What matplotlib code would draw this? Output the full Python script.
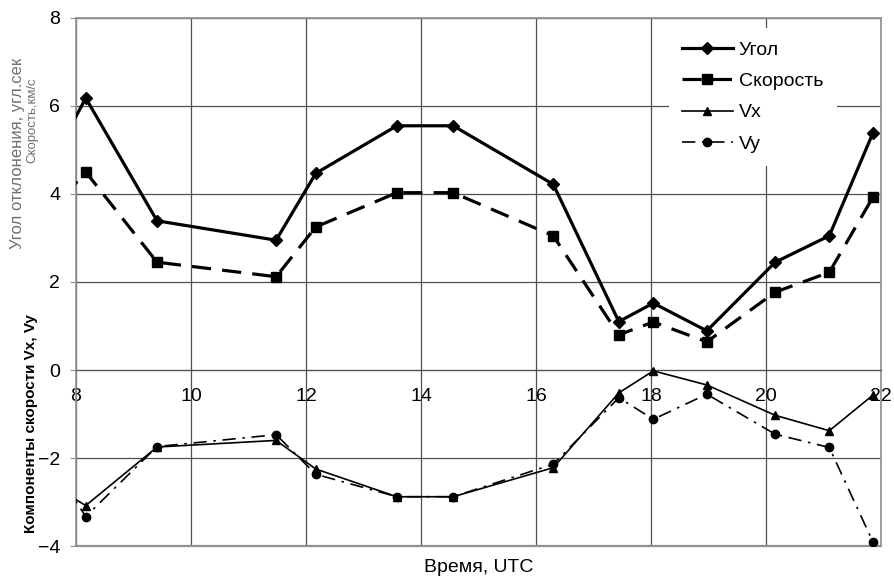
import matplotlib
matplotlib.use('Agg')
import matplotlib.pyplot as plt

plt.rcParams['font.family'] = ['Liberation Sans', 'DejaVu Sans']

# время, UTC (первая точка левее 8 ч, линия обрезана краем оси)
time = [7.8, 8.17, 9.41, 11.48, 12.17, 13.58, 14.56, 16.3, 17.44, 18.04, 18.97, 20.16, 21.1, 21.86]
angle = [5.27, 6.18, 3.39, 2.95, 4.47, 5.55, 5.55, 4.22, 1.1, 1.52, 0.89, 2.45, 3.05, 5.39]
speed = [3.96, 4.5, 2.45, 2.12, 3.25, 4.03, 4.03, 3.05, 0.8, 1.09, 0.64, 1.77, 2.22, 3.93]
vx = [-2.79, -3.08, -1.75, -1.6, -2.25, -2.88, -2.88, -2.22, -0.52, -0.02, -0.34, -1.03, -1.38, -0.57]
vy = [-2.6, -3.33, -1.74, -1.47, -2.37, -2.88, -2.88, -2.14, -0.63, -1.12, -0.55, -1.46, -1.76, -3.91]

xticks = [8, 10, 12, 14, 16, 18, 20, 22]
yticks = [-4, -2, 0, 2, 4, 6, 8]

fig = plt.figure(figsize=(8.95, 5.8), dpi=100)
ax = fig.add_axes([0.0849, 0.0586, 0.8995, 0.9104])

ax.plot(time, angle, color='black', lw=2.3, marker='D', ms=6, label='Угол', zorder=5)
ax.plot(time, speed, color='black', lw=2.3, ls=(0, (6, 3.5)), marker='s', ms=7.5, label='Скорость', zorder=5)
ax.plot(time, vx, color='black', lw=1.2, marker='^', ms=6, label='Vx', zorder=4)
ax.plot(time, vy, color='black', lw=1.2, ls=(0, (8, 4, 1.5, 4)), marker='o', ms=6, label='Vy', zorder=4)

ax.set_xlim(8, 22)
ax.set_ylim(-4, 8)
ax.set_xticks(xticks)
ax.set_yticks(yticks)
ax.grid(True, color='#505050', lw=0.9)
ax.set_axisbelow(True)

# ось X проходит через 0, как в Excel
ax.spines['bottom'].set_position(('data', 0))
ax.spines['bottom'].set_color('#505050')
for s in ['top', 'right', 'left']:
    ax.spines[s].set_color('#909090')
    ax.spines[s].set_linewidth(1.2)
ax.axhline(-4, color='#909090', lw=1.6, clip_on=False)
ax.tick_params(axis='x', length=0, labelsize=14, pad=13)
ax.tick_params(axis='y', length=4.3, color='#909090', labelsize=14, pad=7)

ax.set_xlabel('Время, UTC', fontsize=14)
ax.xaxis.set_label_coords(0.5, -0.025)

fig.text(0.019, 0.736, 'Угол отклонения, угл.сек', rotation=90,
         ha='center', va='center', fontsize=12, color='#707070')
fig.text(0.036, 0.793, 'Скорость,км/с', rotation=90,
         ha='center', va='center', fontsize=9.5, color='#707070')
fig.text(0.035, 0.269, 'Компоненты скорости Vx, Vy', rotation=90,
         ha='center', va='center', fontsize=11, fontweight='bold', color='black')

leg = ax.legend(loc='upper left', bbox_to_anchor=(0.724, 1.0), frameon=True,
                fontsize=14, handlelength=2.6, labelspacing=0.7, borderpad=0.7,
                handletextpad=0.3)
leg.get_frame().set_edgecolor('none')
leg.get_frame().set_facecolor('white')
leg.get_frame().set_alpha(1)

fig.savefig('out.png', dpi=100)
